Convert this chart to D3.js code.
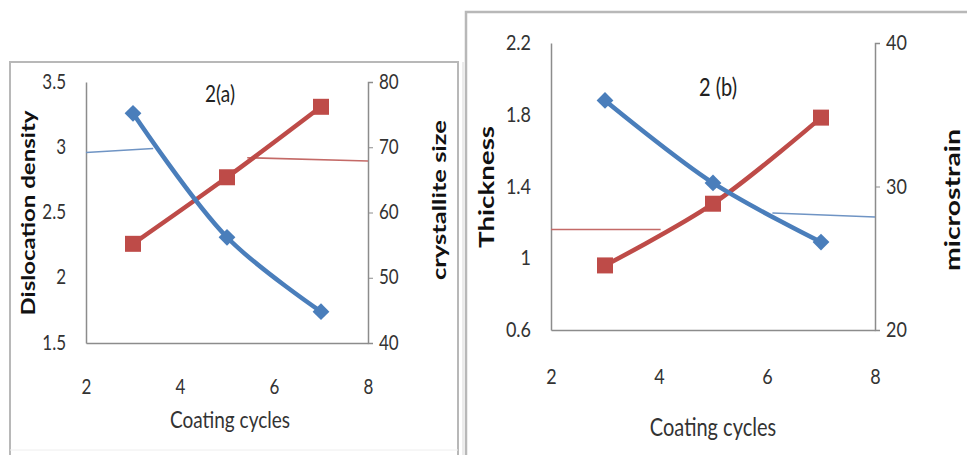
<!DOCTYPE html>
<html>
<head>
<meta charset="utf-8">
<script src="https://cdn.jsdelivr.net/npm/d3@7"></script>
<style>
  body { margin: 0; background: #fff; }
  text { font-family: Lato, "Open Sans", sans-serif; }
</style>
</head>
<body>
<div id="chart-area"></div>
<script>
// shared x values
var cycles = [3, 5, 7];
var xTicks = [2, 4, 6, 8];

// panel (a)
var dislocation = [3.26, 2.31, 1.74];
var crystallite = [55.2, 65.4, 76.2];
var aLeftTicks = [1.5, 2, 2.5, 3, 3.5];
var aRightTicks = [40, 50, 60, 70, 80];
// thin leader lines (x, y)
var aBlueThin = [[2, 2.96], [3.43, 2.99]];
var aRedThin = [[5.43, 68.4], [8, 67.9]];

// panel (b)
var thickness = [1.88, 1.42, 1.09];
var microstrain = [24.5, 28.8, 34.8];
var bLeftTicks = [0.6, 1, 1.4, 1.8, 2.2];
var bRightTicks = [20, 30, 40];
var bRedThin = [[2, 27.0], [4.03, 27.0]];
var bBlueThin = [[6.1, 1.252], [8, 1.23]];

var BLUE = "#4a7ebb", RED = "#be4b48", AXIS = "#8c8c8c", TXT = "#333";
var STRETCH = 1.22; // the picture is a bit taller than wide, text too

var svg = d3.select("#chart-area")
    .append("svg")
        .attr("width", 967)
        .attr("height", 455);

// panel frames
svg.append("rect").attr("x", 10).attr("y", 62).attr("width", 448).attr("height", 420)
    .attr("fill", "none").attr("stroke", "#b8b8b8").attr("stroke-width", 2);
svg.append("line").attr("x1", 10).attr("x2", 458).attr("y1", 450).attr("y2", 450)
    .attr("stroke", "#eeeeee");
svg.append("rect").attr("x", 466).attr("y", 12).attr("width", 520).attr("height", 460)
    .attr("fill", "none").attr("stroke", "#b8b8b8").attr("stroke-width", 2.5);
svg.append("line").attr("x1", 463).attr("x2", 463).attr("y1", 62).attr("y2", 455)
    .attr("stroke", "#d8d8d8");

function label(g, x, y, txt, size, opts) {
    opts = opts || {};
    var t = g.append("text")
        .attr("transform", "translate(" + x + "," + y + ")" + (opts.rotate ? " rotate(-90)" : "") +
              (opts.rotate ? "" : " scale(1," + STRETCH + ")"))
        .attr("text-anchor", "middle")
        .attr("dy", "0.35em")
        .attr("font-size", size + "px")
        .attr("font-weight", opts.bold ? "bold" : "normal")
        .attr("fill", opts.fill || TXT)
        .text(txt);
    if (opts.len) t.attr("textLength", opts.len).attr("lengthAdjust", "spacingAndGlyphs");
    return t;
}

function drawPanel(p) {
    var x = d3.scaleLinear().domain([2, 8]).range([p.left, p.right]);
    var yL = d3.scaleLinear().domain(p.leftDomain).range([p.bottom, p.top]);
    var yR = d3.scaleLinear().domain(p.rightDomain).range([p.bottom, p.top]);
    var g = svg.append("g");

    // left axis (no tick marks)
    var la = g.append("g")
        .attr("transform", "translate(" + p.left + ",0)")
        .call(d3.axisLeft(yL).tickValues(p.leftTicks).tickSize(0).tickPadding(p.pad).tickFormat(d3.format("")));
    // right axis
    var ra = g.append("g")
        .attr("transform", "translate(" + p.right + ",0)")
        .call(d3.axisRight(yR).tickValues(p.rightTicks).tickSize(5).tickPadding(6).tickFormat(d3.format("")));
    // bottom axis
    var ba = g.append("g")
        .attr("transform", "translate(0," + p.bottom + ")")
        .call(d3.axisBottom(x).tickValues(xTicks).tickSize(0).tickPadding(p.xPad / STRETCH).tickFormat(d3.format("d")));

    [la, ra, ba].forEach(function(a) {
        a.select(".domain").attr("stroke", AXIS).attr("stroke-width", 1.5);
        a.selectAll(".tick line").attr("stroke", AXIS);
        a.selectAll("text").attr("fill", TXT).attr("font-size", p.fs + "px")
            .attr("transform", "scale(1," + STRETCH + ")")
            .style("font-family", "Lato, sans-serif");
    });
    la.selectAll("text").attr("dy", "0.3em");
    ra.selectAll("text").attr("dy", "0.3em");

    // thin lines
    var thin = d3.line().x(function(d){ return x(d[0]); });
    g.append("path").datum(p.blueThin)
        .attr("d", thin.y(function(d){ return yL(d[1]); }))
        .attr("fill", "none").attr("stroke", "#6f94c4").attr("stroke-width", 1.6);
    g.append("path").datum(p.redThin)
        .attr("d", thin.y(function(d){ return yR(d[1]); }))
        .attr("fill", "none").attr("stroke", "#c46a67").attr("stroke-width", 1.6);

    var blueLine = d3.line().curve(d3.curveCatmullRom)
        .x(function(d, i){ return x(cycles[i]); })
        .y(function(d){ return yL(d); });
    var redLine = d3.line().curve(d3.curveCatmullRom)
        .x(function(d, i){ return x(cycles[i]); })
        .y(function(d){ return yR(d); });

    // red series (right axis)
    g.append("path").datum(p.red).attr("d", redLine)
        .attr("fill", "none").attr("stroke", RED).attr("stroke-width", 4.5);
    g.selectAll(".sq").data(p.red).enter().append("rect")
        .attr("x", function(d, i){ return x(cycles[i]) - 8; })
        .attr("y", function(d){ return yR(d) - 8; })
        .attr("width", 16).attr("height", 16)
        .attr("fill", RED);

    // blue series (left axis)
    g.append("path").datum(p.blue).attr("d", blueLine)
        .attr("fill", "none").attr("stroke", BLUE).attr("stroke-width", 4.5);
    g.selectAll(".dm").data(p.blue).enter().append("path")
        .attr("d", d3.symbol().type(d3.symbolDiamond2).size(180))
        .attr("transform", function(d, i){ return "translate(" + x(cycles[i]) + "," + yL(d) + ")"; })
        .attr("fill", BLUE);

    // titles
    label(g, p.titleX, p.titleY, p.title, p.fs + 2, { fill: "#222" });
    label(g, (p.left + p.right) / 2 + p.xLabDx, p.xLabY, "Coating cycles", p.fs + 2);
    label(g, p.yLabX, p.yLabY, p.yLabel, p.yfs, { rotate: true, bold: true, fill: "#111", len: p.yLen });
    label(g, p.y2LabX, p.y2LabY, p.y2Label, p.yfs, { rotate: true, bold: true, fill: "#111", len: p.y2Len });
}

drawPanel({
    left: 86, right: 368, top: 82, bottom: 343,
    leftDomain: [1.5, 3.5], rightDomain: [40, 80],
    leftTicks: aLeftTicks, rightTicks: aRightTicks,
    blue: dislocation, red: crystallite,
    blueThin: aBlueThin, redThin: aRedThin,
    pad: 20, xPad: 36, fs: 17, yfs: 18,
    title: "2(a)", titleX: 220, titleY: 94,
    xLabDx: 3, xLabY: 420,
    yLabel: "Dislocation density", yLabX: 29, yLabY: 213, yLen: 205,
    y2Label: "crystallite size", y2LabX: 440, y2LabY: 200, y2Len: 160
});

drawPanel({
    left: 551, right: 875, top: 43, bottom: 330,
    leftDomain: [0.6, 2.2], rightDomain: [20, 40],
    leftTicks: bLeftTicks, rightTicks: bRightTicks,
    blue: thickness, red: microstrain,
    blueThin: bBlueThin, redThin: bRedThin,
    pad: 20, xPad: 38, fs: 18, yfs: 20,
    title: "2 (b)", titleX: 718, titleY: 87,
    xLabDx: 0, xLabY: 427,
    yLabel: "Thickness", yLabX: 487, yLabY: 187, yLen: 122,
    y2Label: "microstrain", y2LabX: 953, y2LabY: 200, y2Len: 142
});
</script>
</body>
</html>
